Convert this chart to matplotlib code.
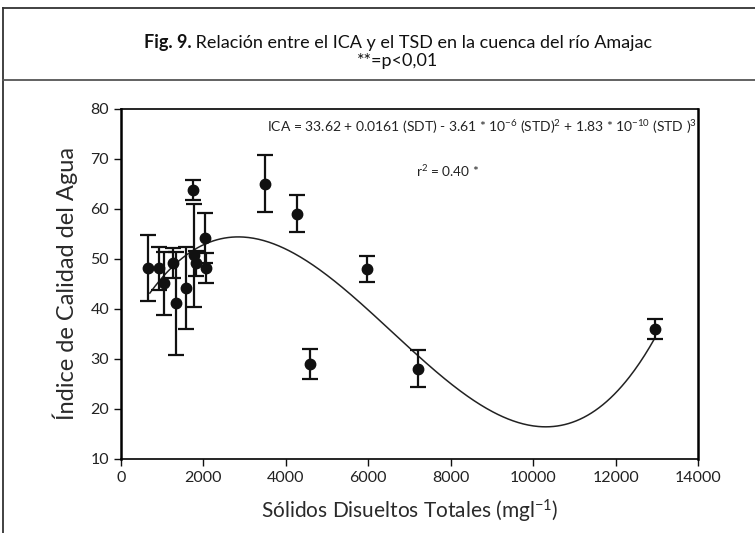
import matplotlib
matplotlib.use('Agg')
import matplotlib.pyplot as plt
from matplotlib.lines import Line2D
import numpy as np

# datos
tsd = [663, 920, 1040, 1265, 1335, 1580, 1748, 1770, 1820, 2040, 2065,
       3495, 4264, 4587, 5978, 7217, 12961]
ica = [48.2, 48.2, 45.2, 49.2, 41.2, 44.2, 63.9, 50.8, 49.2, 54.2, 48.2,
       65.1, 59.1, 29.1, 48.1, 28.1, 36.1]
err = [6.6, 4.3, 6.3, 3.0, 10.3, 8.2, 2.0, 10.3, 2.5, 5.0, 3.0,
       5.75, 3.65, 3.0, 2.6, 3.75, 2.0]

# coeficientes del ajuste cubico indicado en la figura
coef = [33.62, 0.0161, -3.61e-6, 1.83e-10]
fit_start, fit_end = 700, 12950

xticks = list(range(0, 14001, 2000))
yticks = list(range(10, 81, 10))

plt.rcParams['font.family'] = ['Lato', 'DejaVu Sans']
plt.rcParams['mathtext.default'] = 'regular'

fig = plt.figure(figsize=(7.55, 5.33), dpi=100)
ax = fig.add_axes([121 / 755, 1 - 459 / 533, 577 / 755, 350 / 533])

xs = np.linspace(fit_start, fit_end, 400)
ys = coef[0] + coef[1] * xs + coef[2] * xs ** 2 + coef[3] * xs ** 3
ax.plot(xs, ys, color='#222222', lw=1.1, zorder=2)

ax.errorbar(tsd, ica, yerr=err, fmt='o', color='#111111', ms=7.5,
            elinewidth=1.6, capsize=5.5, capthick=1.6, zorder=3)

ax.set_xlim(0, 14000)
ax.set_ylim(10, 80)
ax.set_xticks(xticks)
ax.set_yticks(yticks)
ax.tick_params(direction='out', length=5, width=1, labelsize=11.5,
               color='#111111', labelcolor='#222222')
for side in ['left', 'right']:
    ax.spines[side].set_linewidth(1.8)
for side in ['top', 'bottom']:
    ax.spines[side].set_linewidth(1.2)

ax.set_xlabel('Sólidos Disueltos Totales (mgl$^{-1}$)', fontsize=15,
              color='#2a2a2a', labelpad=9)
ax.set_ylabel('Índice de Calidad del Agua', fontsize=17,
              color='#2a2a2a', labelpad=9)

ax.text(3540, 76.3,
        'ICA = 33.62 + 0.0161 (SDT) - 3.61 * 10$^{-6}$ (STD)$^{2}$ + '
        '1.83 * 10$^{-10}$ (STD )$^{3}$',
        fontsize=10, color='#222222', va='center')
ax.text(7150, 67.6, 'r$^{2}$ = 0.40 *', fontsize=9.8, color='#222222',
        va='center')

# titulo con recuadro
y1 = 1 - 48 / 533
t1 = fig.text(0, y1, 'Fig. 9.', fontsize=13, fontweight='bold',
              color='#111111', va='baseline')
t2 = fig.text(0, y1, ' Relación entre el ICA y el TSD en la cuenca del río Amajac',
              fontsize=13, color='#111111', va='baseline')
r = fig.canvas.get_renderer()
w1 = t1.get_window_extent(r).width / 755
w2 = t2.get_window_extent(r).width / 755
x0 = 0.527 - (w1 + w2) / 2
t1.set_x(x0)
t2.set_x(x0 + w1)
fig.text(0.527, 1 - 66 / 533, '**=p<0,01', ha='center', va='baseline',
         fontsize=13, color='#111111')

fig.add_artist(Line2D([3 / 755, 1], [1 - 8 / 533, 1 - 8 / 533],
                      color='#333333', lw=1.3))
fig.add_artist(Line2D([3 / 755, 3 / 755], [0, 1 - 8 / 533],
                      color='#333333', lw=1.3))
fig.add_artist(Line2D([3 / 755, 1], [1 - 80 / 533, 1 - 80 / 533],
                      color='#555555', lw=1.3))

fig.savefig('out.png', dpi=100)
